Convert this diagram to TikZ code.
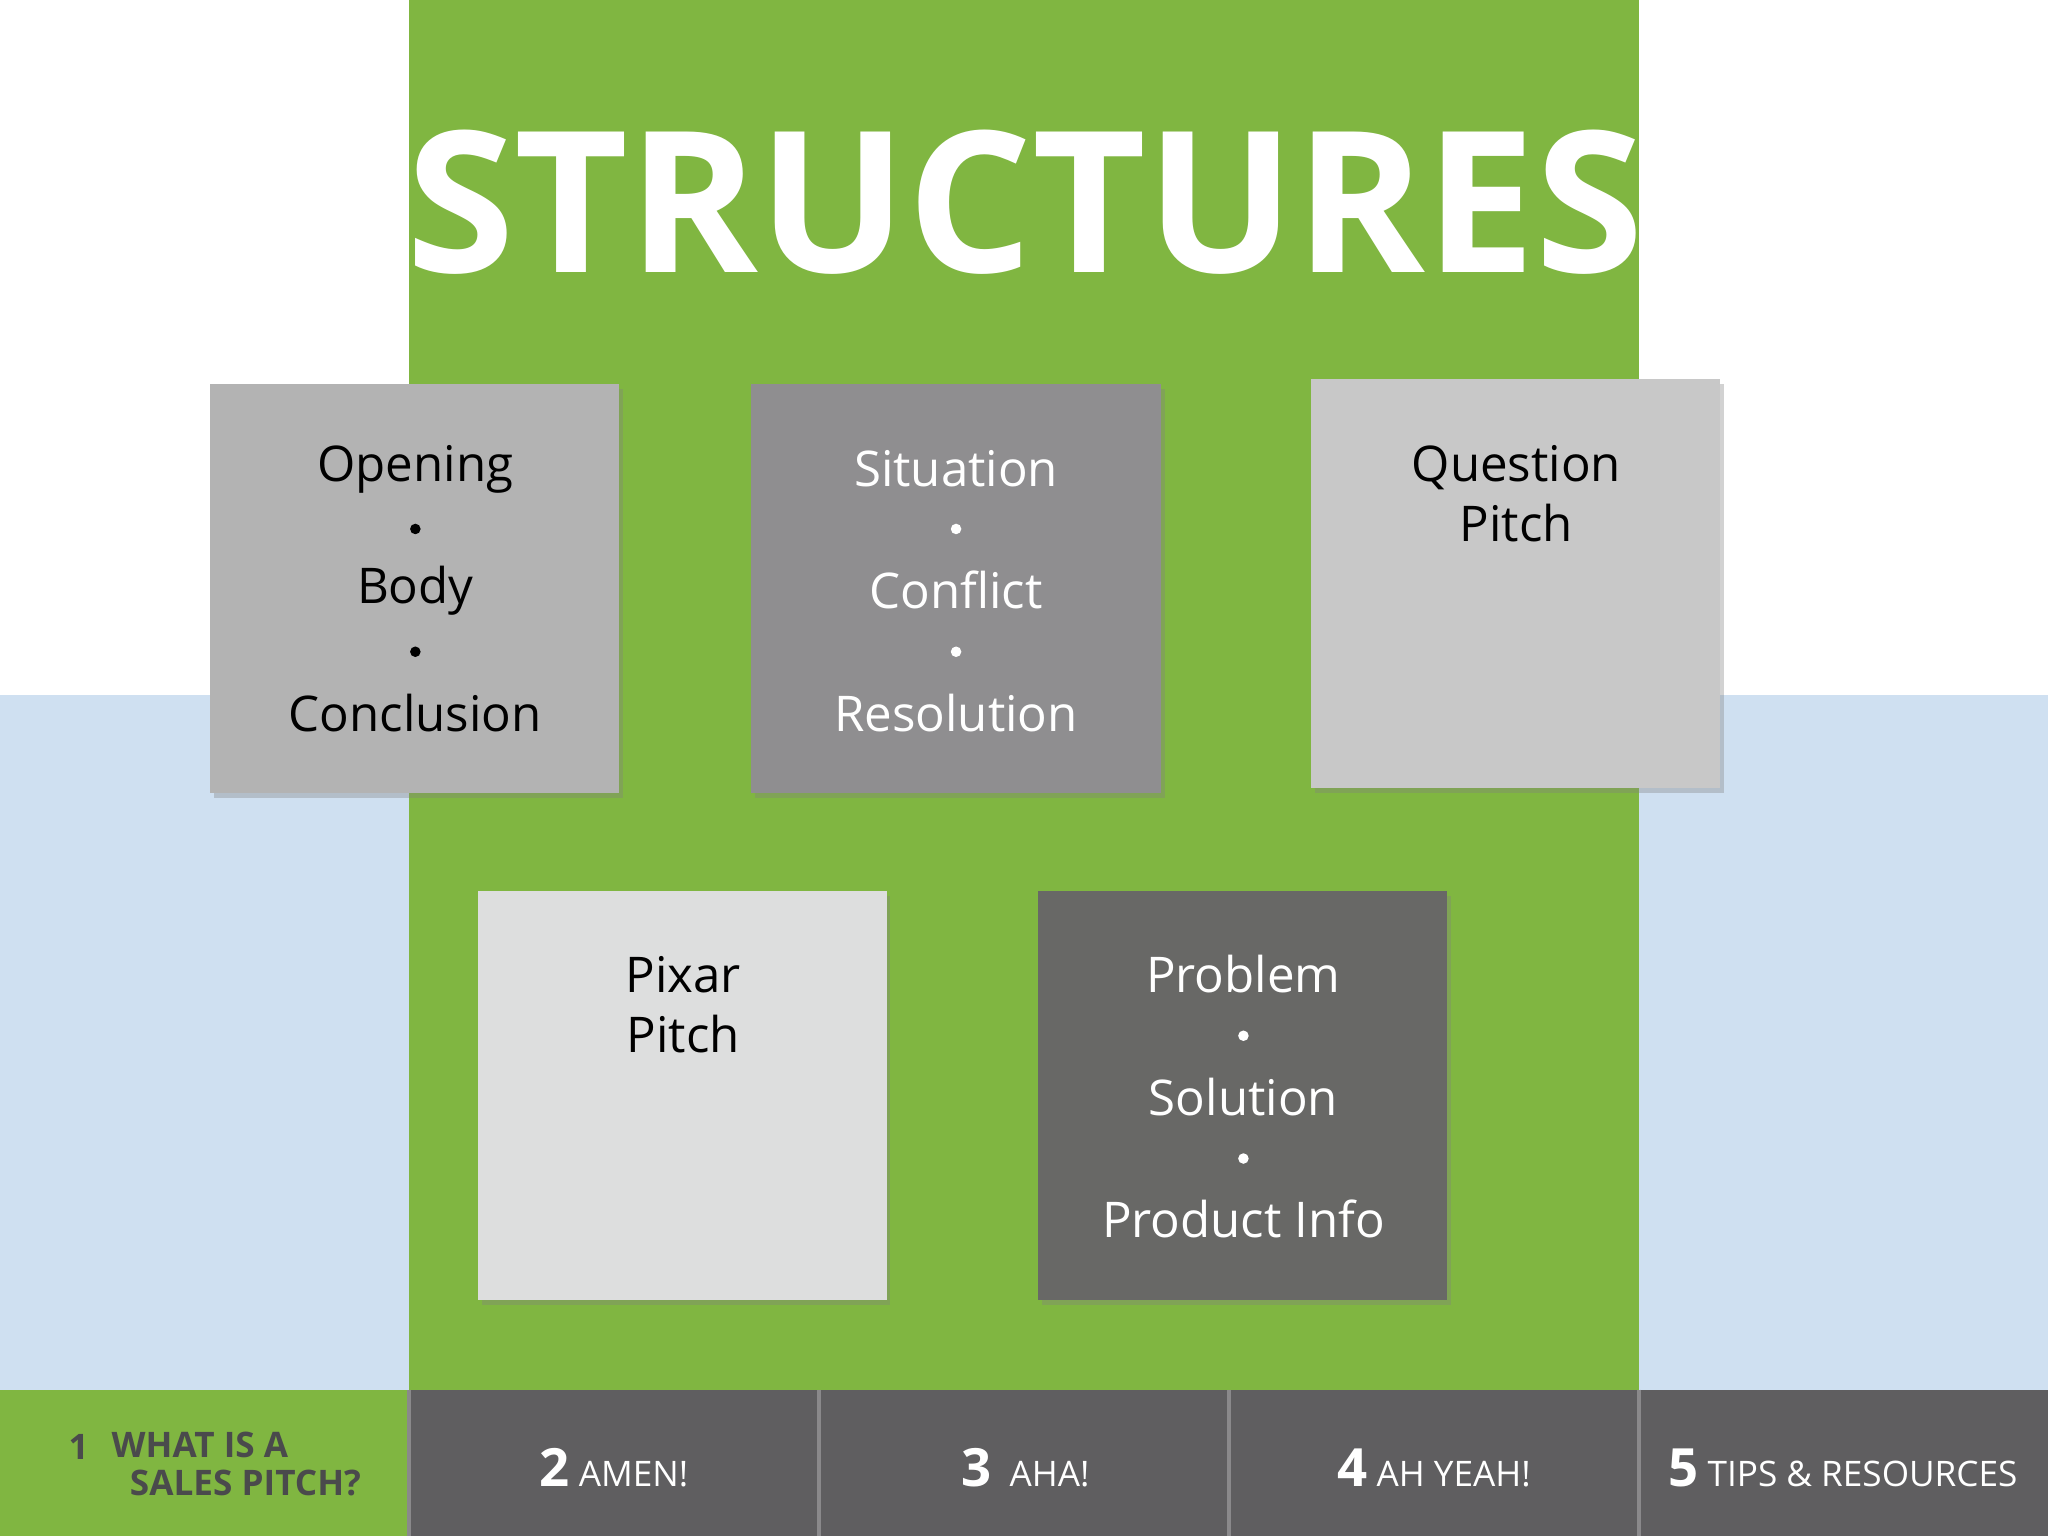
\documentclass[tikz,border=0pt]{standalone}
\usepackage{fontspec}
\setmainfont{Open Sans}
\usetikzlibrary{shadows}
\definecolor{grn}{HTML}{80B641}
\definecolor{lblue}{HTML}{CFE0F1}
\definecolor{dbar}{HTML}{5F5E60}
\definecolor{sepc}{HTML}{8A898B}
\definecolor{bA}{HTML}{B3B3B3}
\definecolor{bB}{HTML}{8F8E90}
\definecolor{bC}{HTML}{C8C8C8}
\definecolor{bD}{HTML}{DDDEDE}
\definecolor{bE}{HTML}{686866}
\definecolor{navtxt}{HTML}{4A4A4C}
\begin{document}
\begin{tikzpicture}[x=0.013061cm,y=-0.013061cm,
  card/.style={draw=none,drop shadow={shadow xshift=1pt,shadow yshift=-1.5pt,opacity=0.35}},
  txt/.style={font=\fontsize{14}{16}\selectfont,anchor=center},
  dot/.style={circle,inner sep=0pt,minimum size=3pt},
  num/.style={font=\bfseries\fontsize{15}{16}\selectfont,text=white},
  nav/.style={font=\fontsize{10}{11}\selectfont,text=white}]
\useasboundingbox (0,0) rectangle (1568,1176);
\fill[white] (0,0) rectangle (1568,1176);
\fill[lblue] (0,532) rectangle (313,1064);
\fill[lblue] (1255,532) rectangle (1568,1064);
\fill[grn] (313,0) rectangle (1255,1064);
\node[font=\bfseries\fontsize{56}{60}\selectfont,text=white] (title) at (785,155) {STRUCTURES};
% cards
\path[card,fill=bA] (161,294) rectangle (474,607);
\path[card,fill=bB] (575,294) rectangle (889,607);
\path[card,fill=bC] (1004,290) rectangle (1317,603);
\path[card,fill=bD] (366,682) rectangle (679,995);
\path[card,fill=bE] (795,682) rectangle (1108,995);
% card 1
\node[txt] (o1) at (318,359) {Opening};
\node[dot,fill=black] (o2) at (318,405) {};
\node[txt] (o3) at (318,452) {Body};
\node[dot,fill=black] (o4) at (318,499) {};
\node[txt] (o5) at (318,546) {Conclusion};
% card 2
\node[txt,text=white] (s1) at (732,359) {Situation};
\node[dot,fill=white] (s2) at (732,405) {};
\node[txt,text=white] (s3) at (732,452) {Conflict};
\node[dot,fill=white] (s4) at (732,499) {};
\node[txt,text=white] (s5) at (732,546) {Resolution};
% card 3
\node[txt,align=center,font=\fontsize{14}{17}\selectfont] (q) at (1161,378) {Question\\Pitch};
% card 4
\node[txt,align=center,font=\fontsize{14}{17}\selectfont] (p) at (523,769) {Pixar\\Pitch};
% card 5
\node[txt,text=white] (r1) at (952,746) {Problem};
\node[dot,fill=white] (r2) at (952,793) {};
\node[txt,text=white] (r3) at (952,840) {Solution};
\node[dot,fill=white] (r4) at (952,887) {};
\node[txt,text=white] (r5) at (952,933) {Product Info};
% bottom bar
\fill[grn] (0,1064) rectangle (313,1176);
\fill[dbar] (313,1064) rectangle (1568,1176);
\foreach \x in {313,627,941,1255} \draw[sepc,line width=1pt] (\x,1064) -- (\x,1176);
\node[font=\bfseries\fontsize{10}{11}\selectfont,text=navtxt,anchor=west] (n1) at (43,1108) {1};
\node[font=\bfseries\fontsize{10}{11}\selectfont,text=navtxt,anchor=west,align=left] (n1t) at (76,1121) {WHAT IS A\\\ \ SALES PITCH?};
\node[anchor=center] (n2) at (470,1124) {\textcolor{white}{\bfseries\fontsize{15}{16}\selectfont 2} \textcolor{white}{\fontsize{10}{11}\selectfont AMEN!}};
\node[anchor=center] (n3) at (785,1124) {\textcolor{white}{\bfseries\fontsize{15}{16}\selectfont 3}\ \ \textcolor{white}{\fontsize{10}{11}\selectfont AHA!}};
\node[anchor=center] (n4) at (1098,1124) {\textcolor{white}{\bfseries\fontsize{15}{16}\selectfont 4} \textcolor{white}{\fontsize{10}{11}\selectfont AH YEAH!}};
\node[anchor=center] (n5) at (1411,1124) {\textcolor{white}{\bfseries\fontsize{15}{16}\selectfont 5} \textcolor{white}{\fontsize{10}{11}\selectfont TIPS \& RESOURCES}};
\end{tikzpicture}
\end{document}
